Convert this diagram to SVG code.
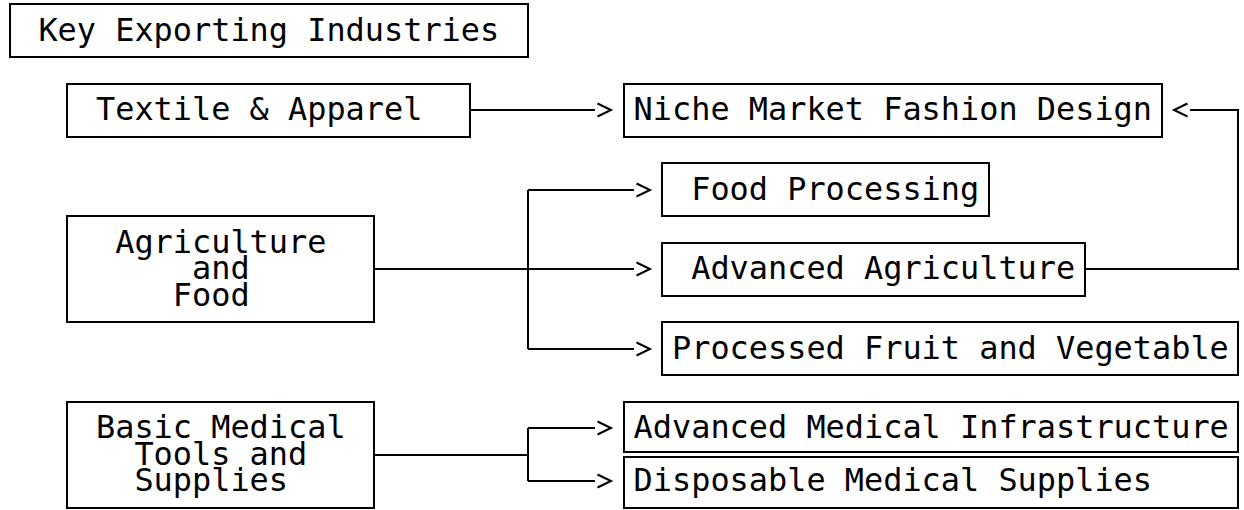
<svg xmlns="http://www.w3.org/2000/svg" width="1244" height="510" viewBox="0 0 1244 510">
<style>
.box{fill:#fff;stroke:#000;stroke-width:2}
.t{font-family:"DejaVu Sans Mono","Liberation Mono",monospace;font-size:32px;fill:#000}
.c{fill:none;stroke:#000;stroke-width:2}
</style>
<defs>
<marker id="arr" markerUnits="userSpaceOnUse" markerWidth="20" markerHeight="16" refX="0" refY="8" orient="auto" overflow="visible">
<path d="M2.5,1.5 L16,8 L2.5,14.5" fill="none" stroke="#000" stroke-width="2"/>
</marker>
</defs>
<rect width="1244" height="510" fill="#fff"/>
<g id="connectors">
<path class="c" d="M470,110 H595" marker-end="url(#arr)"/>
<path class="c" d="M374,269 H634" marker-end="url(#arr)"/>
<path class="c" d="M528,190 V349"/>
<path class="c" d="M528,190 H634" marker-end="url(#arr)"/>
<path class="c" d="M528,349 H634" marker-end="url(#arr)"/>
<path class="c" d="M1085,269 H1238 V110 H1190" marker-end="url(#arr)"/>
<path class="c" d="M374,455 H528"/>
<path class="c" d="M528,428 V481"/>
<path class="c" d="M528,428 H595" marker-end="url(#arr)"/>
<path class="c" d="M528,481 H595" marker-end="url(#arr)"/>
</g>
<g id="title">
<rect class="box" x="10" y="4" width="518" height="53"/>
<text class="t" x="38.4" y="41" textLength="460.8" lengthAdjust="spacingAndGlyphs">Key Exporting Industries</text>
</g>
<g id="textile">
<rect class="box" x="67" y="84" width="403" height="53"/>
<text class="t" x="96" y="120" textLength="326.4" lengthAdjust="spacingAndGlyphs">Textile &amp; Apparel</text>
</g>
<g id="niche">
<rect class="box" x="624" y="84" width="538" height="53"/>
<text class="t" x="633.6" y="120" textLength="518.4" lengthAdjust="spacingAndGlyphs">Niche Market Fashion Design</text>
</g>
<g id="agri">
<rect class="box" x="67" y="216" width="307" height="106"/>
<text class="t" x="115.2" y="253" textLength="211.2" lengthAdjust="spacingAndGlyphs">Agriculture</text>
<text class="t" x="192" y="279" textLength="57.6" lengthAdjust="spacingAndGlyphs">and</text>
<text class="t" x="172.8" y="306" textLength="76.8" lengthAdjust="spacingAndGlyphs">Food</text>
</g>
<g id="foodproc">
<rect class="box" x="662" y="163" width="327" height="53"/>
<text class="t" x="691.2" y="200" textLength="288" lengthAdjust="spacingAndGlyphs">Food Processing</text>
</g>
<g id="advagri">
<rect class="box" x="662" y="243" width="423" height="53"/>
<text class="t" x="691.2" y="279" textLength="384" lengthAdjust="spacingAndGlyphs">Advanced Agriculture</text>
</g>
<g id="processed">
<rect class="box" x="662" y="322" width="576" height="53"/>
<text class="t" x="672" y="359" textLength="556.8" lengthAdjust="spacingAndGlyphs">Processed Fruit and Vegetable</text>
</g>
<g id="medical">
<rect class="box" x="67" y="402" width="307" height="106"/>
<text class="t" x="96" y="438" textLength="249.6" lengthAdjust="spacingAndGlyphs">Basic Medical</text>
<text class="t" x="134.4" y="465" textLength="172.8" lengthAdjust="spacingAndGlyphs">Tools and</text>
<text class="t" x="134.4" y="491" textLength="153.6" lengthAdjust="spacingAndGlyphs">Supplies</text>
</g>
<g id="advmed">
<rect class="box" x="624" y="402" width="614" height="50"/>
<text class="t" x="633.6" y="438" textLength="595.2" lengthAdjust="spacingAndGlyphs">Advanced Medical Infrastructure</text>
</g>
<g id="disposable">
<rect class="box" x="624" y="457" width="614" height="51"/>
<text class="t" x="633.6" y="491" textLength="518.4" lengthAdjust="spacingAndGlyphs">Disposable Medical Supplies</text>
</g>
</svg>
